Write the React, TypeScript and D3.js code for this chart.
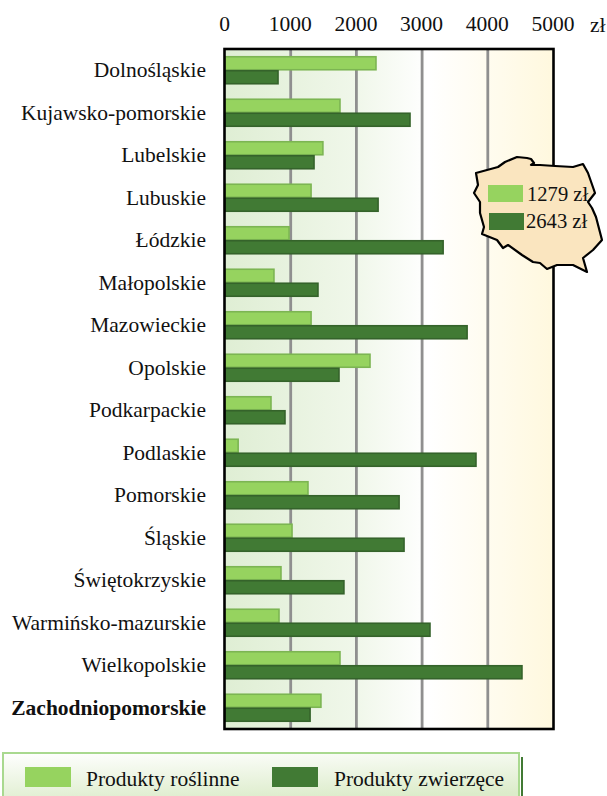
import React from "react";
import * as d3 from "d3";

const regions = ["Dolnośląskie","Kujawsko-pomorskie","Lubelskie","Lubuskie","Łódzkie","Małopolskie","Mazowieckie","Opolskie","Podkarpackie","Podlaskie","Pomorskie","Śląskie","Świętokrzyskie","Warmińsko-mazurskie","Wielkopolskie","Zachodniopomorskie"];
const plantValues = [2298,1750,1490,1310,975,745,1310,2207,700,200,1263,1020,852,822,1750,1460];
const animalValues = [807,2816,1355,2330,3320,1415,3685,1735,913,3820,2650,2725,1810,3120,4520,1295];
const ticks = [0,1000,2000,3000,4000,5000];
const seriesNames = ["Produkty roślinne","Produkty zwierzęce"];
const mapValues = ["1279 zł","2643 zł"];
const polandOutline: [number,number][] = [[476,173],[498,167],[505,162],[517,157],[527,158],[531,159],[534,163],[531,165],[540,165],[555,166],[573,167],[583,164],[588,173],[595,193],[588,202],[592,208],[596,217],[602,240],[593,250],[583,258],[587,272],[573,265],[557,265],[547,269],[540,263],[533,262],[522,255],[508,245],[503,248],[497,240],[482,234],[484,227],[480,213],[480,202],[474,193],[478,185]];

const LIGHT = "#96d35f", LIGHT_S = "#7cb552", DARK = "#417a34", DARK_S = "#35632b";
const FONT = "'Liberation Serif', 'Times New Roman', serif";
const FS = 21.5;

export default function App() {
  const x = d3.scaleLinear().domain([0,5000]).range([225,553.5]);
  const y = d3.scaleBand().domain(regions).range([49,729]);
  const bh = 14;
  const line = d3.line().curve(d3.curveLinearClosed);
  return (
    <svg width={607} height={796} style={{position:"absolute",left:0,top:0,fontFamily:FONT}}>
      <defs>
        <linearGradient id="plot" x1="0" x2="1" y1="0" y2="0">
          <stop offset="0" stopColor="#dfeed4"/>
          <stop offset="0.4" stopColor="#f0f7ea"/>
          <stop offset="0.62" stopColor="#ffffff"/>
          <stop offset="1" stopColor="#fff8de"/>
        </linearGradient>
        <linearGradient id="leg" x1="0" x2="0.3" y1="0" y2="1">
          <stop offset="0" stopColor="#ffffff"/>
          <stop offset="1" stopColor="#dcecca"/>
        </linearGradient>
      </defs>
      <rect x={225} y={49} width={328.5} height={680} fill="url(#plot)"/>
      {ticks.slice(1,5).map(t => <line key={t} x1={x(t)} x2={x(t)} y1={49} y2={729} stroke="#8f8f8f" strokeWidth={2.8}/>)}
      {regions.map((r,i) => {
        const c = y(r)! + y.bandwidth()/2;
        return (
          <g key={r}>
            <rect x={x(0)} y={c-bh+0.5} width={x(plantValues[i])-x(0)} height={bh-1} fill={LIGHT} stroke={LIGHT_S} strokeWidth={1.6}/>
            <rect x={x(0)} y={c+0.5} width={x(animalValues[i])-x(0)} height={bh-1} fill={DARK} stroke={DARK_S} strokeWidth={1.6}/>
            <text x={206} y={c+6.8} textAnchor="end" fontSize={FS} fontWeight={i===15?"bold":"normal"} fill="#111">{r}</text>
          </g>
        );
      })}
      <rect x={224.5} y={49} width={329} height={680} fill="none" stroke="#000" strokeWidth={2.6}/>
      {ticks.map(t => <text key={t} x={x(t)-0.5} y={31} textAnchor="middle" fontSize={FS} fill="#111">{t}</text>)}
      <text x={590} y={32} fontSize={FS} fill="#111">zł</text>
      <path d={line(polandOutline)!} fill="#fae5bf" stroke="#000" strokeWidth={2.2} strokeLinejoin="round"/>
      <rect x={488} y={185} width={35} height={17} fill={LIGHT}/>
      <rect x={489} y={213} width={35} height={17} fill={DARK}/>
      <text x={527} y={201} fontSize={20.6} fill="#111">{mapValues[0]}</text>
      <text x={526} y={228} fontSize={20.6} fill="#111">{mapValues[1]}</text>
      <rect x={3} y={753} width={516} height={50} fill="url(#leg)" stroke="#a9d98f" strokeWidth={2}/>
      <line x1={522} x2={522} y1={757} y2={796} stroke={DARK} strokeWidth={2}/>
      <rect x={25} y={767} width={46} height={20} fill={LIGHT}/>
      <text x={86} y={786} fontSize={FS} fill="#111">{seriesNames[0]}</text>
      <rect x={272} y={767} width={46} height={20} fill={DARK}/>
      <text x={334} y={786} fontSize={FS} fill="#111">{seriesNames[1]}</text>
    </svg>
  );
}
